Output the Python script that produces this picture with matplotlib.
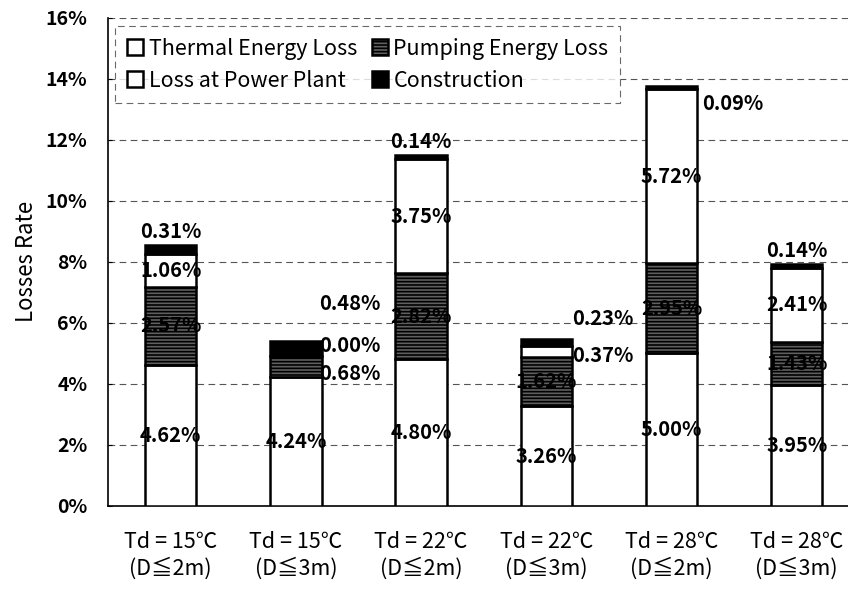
import matplotlib.pyplot as plt
import numpy as np

plt.rcParams['font.family'] = ['Noto Sans CJK JP', 'DejaVu Sans']
plt.rcParams['hatch.linewidth'] = 1.2

cases = ['Td = 15℃\n(D≦2m)', 'Td = 15℃\n(D≦3m)', 'Td = 22℃\n(D≦2m)',
         'Td = 22℃\n(D≦3m)', 'Td = 28℃\n(D≦2m)', 'Td = 28℃\n(D≦3m)']
thermal = [4.62, 4.24, 4.80, 3.26, 5.00, 3.95]
pumping = [2.57, 0.68, 2.82, 1.62, 2.95, 1.43]
plant = [1.06, 0.00, 3.75, 0.37, 5.72, 2.41]
construction = [0.31, 0.48, 0.14, 0.23, 0.09, 0.14]

names = ['Thermal Energy Loss', 'Pumping Energy Loss',
         'Loss at Power Plant', 'Construction']
series = [thermal, pumping, plant, construction]

fig = plt.figure(figsize=(8.48, 5.89), dpi=100)
ax = fig.add_axes([0.1275, 0.141, 0.8725, 0.829])

x = np.arange(len(cases))
w = 0.41
styles = [dict(facecolor='white', hatch=None),
          dict(facecolor='#606060', hatch='-----'),
          dict(facecolor='white', hatch=None),
          dict(facecolor='black', hatch=None)]

bottom = np.zeros(len(cases))
handles = []
for vals, name, st in zip(series, names, styles):
    b = ax.bar(x, vals, w, bottom=bottom, edgecolor='black', linewidth=1.8,
               label=name, zorder=3, **st)
    handles.append(b)
    bottom = bottom + np.array(vals)

# label placement: default is segment centre, a few are moved aside
moved = {
    (0, 3): (0.0, 9.0),
    (1, 1): (0.43, 4.35), (1, 2): (0.43, 5.27), (1, 3): (0.43, 6.63),
    (2, 3): (0.0, 11.93),
    (3, 2): (0.45, 4.93), (3, 3): (0.45, 6.14),
    (4, 3): (0.49, 13.2),
    (5, 3): (0.0, 8.37),
}
base = np.zeros(len(cases))
for k, vals in enumerate(series):
    for i, v in enumerate(vals):
        dx, y = moved.get((i, k), (0.0, base[i] + v / 2))
        ax.text(x[i] + dx, y, f'{v:.2f}%', ha='center', va='center',
                fontsize=14.5, fontweight='bold', zorder=5)
    base = base + np.array(vals)

ax.set_ylim(0, 16)
ax.set_xlim(-0.5, 5.41)
ax.set_yticks(np.arange(0, 17, 2))
ax.set_yticklabels([f'{t}%' for t in range(0, 17, 2)], fontsize=14,
                   fontweight='bold')
ax.set_xticks(x)
ax.set_xticklabels(cases, fontsize=15.5, linespacing=1.25)
ax.tick_params(axis='x', length=0, pad=18)
ax.tick_params(axis='y', length=3, direction='in', pad=15)
ax.set_ylabel('Losses Rate', fontsize=16, labelpad=5)

ax.grid(axis='y', linestyle=(0, (6, 4)), color='#555555', linewidth=0.8,
        zorder=0)
for s in ['top', 'right']:
    ax.spines[s].set_visible(False)
ax.spines['left'].set_linewidth(1.2)
ax.spines['bottom'].set_linewidth(1.2)

# column-wise fill: Thermal / Plant in column 1, Pumping / Construction in 2
order = [0, 2, 1, 3]
leg = ax.legend(handles=[handles[i] for i in order], ncol=2,
                loc='upper left', bbox_to_anchor=(-0.005, 1.005),
                fontsize=15.5, frameon=True, fancybox=False,
                edgecolor='#444444', handlelength=0.75, handleheight=0.75,
                handletextpad=0.25, columnspacing=0.7, labelspacing=0.45,
                borderpad=0.55)
leg.get_frame().set_linestyle((0, (6, 4)))
leg.get_frame().set_linewidth(0.8)

fig.savefig('out.png', dpi=100)
